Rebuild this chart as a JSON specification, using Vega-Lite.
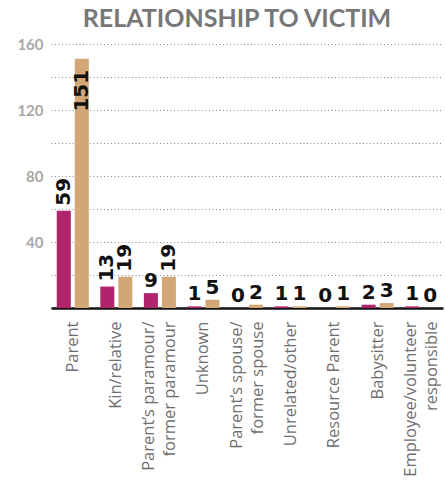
{
  "$schema": "https://vega.github.io/schema/vega-lite/v6.json",
  "width": 392,
  "height": 264,
  "autosize": "none",
  "padding": {"left": 51, "top": 44, "right": 2, "bottom": 172},
  "background": "white",
  "title": {
    "text": "RELATIONSHIP TO VICTIM",
    "font": "Lato",
    "fontSize": 25,
    "fontWeight": "bold",
    "color": "#777777",
    "anchor": "middle",
    "frame": "group",
    "baseline": "bottom",
    "offset": 4,
    "dx": -10,
    "dy": 24
  },
  "data": {
    "values": [
      {"category": "Parent", "series": "A", "value": 59},
      {"category": "Parent", "series": "B", "value": 151},
      {"category": "Kin/relative", "series": "A", "value": 13},
      {"category": "Kin/relative", "series": "B", "value": 19},
      {"category": "Parent’s paramour/|former paramour", "series": "A", "value": 9},
      {"category": "Parent’s paramour/|former paramour", "series": "B", "value": 19},
      {"category": "Unknown", "series": "A", "value": 1},
      {"category": "Unknown", "series": "B", "value": 5},
      {"category": "Parent’s spouse/|former spouse", "series": "A", "value": 0},
      {"category": "Parent’s spouse/|former spouse", "series": "B", "value": 2},
      {"category": "Unrelated/other", "series": "A", "value": 1},
      {"category": "Unrelated/other", "series": "B", "value": 1},
      {"category": "Resource Parent", "series": "A", "value": 0},
      {"category": "Resource Parent", "series": "B", "value": 1},
      {"category": "Babysitter", "series": "A", "value": 2},
      {"category": "Babysitter", "series": "B", "value": 3},
      {"category": "Employee/volunteer|responsible", "series": "A", "value": 1},
      {"category": "Employee/volunteer|responsible", "series": "B", "value": 0}
    ]
  },
  "encoding": {
    "x": {
      "field": "category",
      "type": "nominal",
      "sort": null,
      "title": null,
      "scale": {"paddingInner": 0.264, "paddingOuter": 0.132},
      "axis": {
        "labelAngle": -90,
        "labelExpr": "split(datum.label, '|')",
        "labelFont": "Open Sans",
        "labelFontSize": 16.5,
        "labelColor": "#6e6e6e",
        "labelLineHeight": 21,
        "labelPadding": 13,
        "labelOffset": {"condition": {"test": "indexof(datum.label, '|') >= 0", "value": -10.5}, "value": 0},
        "ticks": false,
        "domainColor": "#111111",
        "domainWidth": 2.5,
        "grid": false
      }
    },
    "xOffset": {
      "field": "series",
      "type": "nominal",
      "scale": {"paddingInner": 0.222, "paddingOuter": 0}
    },
    "y": {
      "field": "value",
      "type": "quantitative",
      "title": null,
      "scale": {"domain": [0, 160], "nice": false},
      "axis": {
        "values": [0, 20, 40, 60, 80, 100, 120, 140, 160],
        "labelExpr": "datum.value % 40 == 0 && datum.value > 0 ? datum.label : ''",
        "labelFont": "Lato",
        "labelFontSize": 15,
        "labelFontWeight": "bold",
        "labelColor": "#a8a8a8",
        "labelPadding": 8,
        "ticks": false,
        "domain": false,
        "grid": true,
        "gridColor": "#8a8a8a",
        "gridDash": [1, 2.5],
        "gridWidth": 1
      }
    }
  },
  "layer": [
    {
      "mark": {"type": "bar"},
      "encoding": {
        "color": {
          "field": "series",
          "type": "nominal",
          "scale": {"domain": ["A", "B"], "range": ["#b0246c", "#d3a676"]},
          "legend": null
        }
      }
    },
    {
      "transform": [{"filter": "datum.value >= 10 && datum.value < 100"}],
      "mark": {"type": "text", "angle": 270, "align": "left", "baseline": "middle", "dx": 5, "font": "DejaVu Sans", "fontSize": 20, "fontWeight": "bold", "color": "#111111"},
      "encoding": {"text": {"field": "value", "type": "quantitative"}}
    },
    {
      "transform": [{"filter": "datum.value >= 100"}],
      "mark": {"type": "text", "angle": 270, "align": "right", "baseline": "middle", "dx": -11, "font": "DejaVu Sans", "fontSize": 20, "fontWeight": "bold", "color": "#111111"},
      "encoding": {"text": {"field": "value", "type": "quantitative"}}
    },
    {
      "transform": [{"filter": "datum.value < 10"}],
      "mark": {"type": "text", "align": "center", "baseline": "alphabetic", "dy": -6, "font": "DejaVu Sans", "fontSize": 20, "fontWeight": "bold", "color": "#111111"},
      "encoding": {"text": {"field": "value", "type": "quantitative"}}
    }
  ],
  "config": {
    "view": {"stroke": null},
    "axis": {"gridOpacity": 1}
  }
}
